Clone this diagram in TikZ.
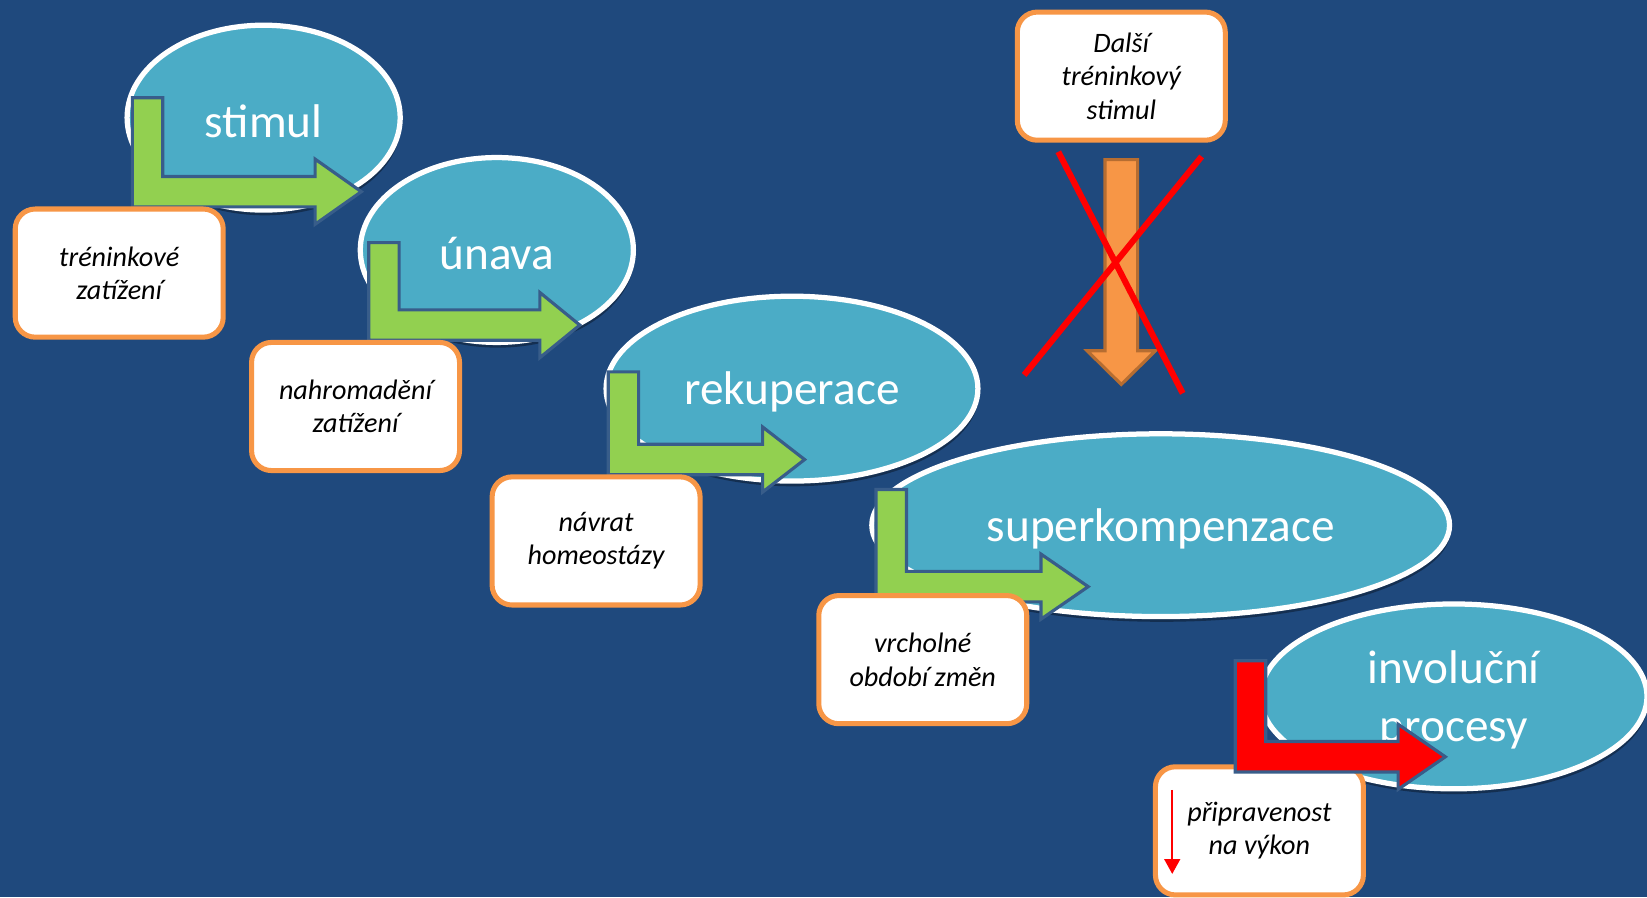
\documentclass[tikz,border=0pt]{standalone}
\usepackage{fontspec}
\setmainfont{Carlito}
\usetikzlibrary{shapes.geometric,arrows.meta,shadows}
\definecolor{bg}{HTML}{1F497D}
\definecolor{aqua}{HTML}{4BACC6}
\definecolor{orng}{HTML}{F79646}
\definecolor{orngdark}{HTML}{B66D31}
\definecolor{arrline}{HTML}{385D8A}
\definecolor{grn}{HTML}{92D050}
\tikzset{
  ell/.style={ellipse, draw=white, line width=2.5pt, fill=aqua, inner sep=0pt,
    drop shadow={shadow xshift=0.5pt, shadow yshift=-2.5pt, opacity=0.35, fill=black}},
  elltxt/.style={text=white, font=\fontsize{22.5}{27.5}\selectfont, align=center,
    inner sep=0pt, yshift=-1.6pt},
  lbl/.style={rectangle, rounded corners=9.5pt, draw=orng, line width=2.4pt, fill=white,
    text=black, font=\fontsize{13.4}{15.9}\selectfont\itshape, align=center,
    minimum width=99pt, minimum height=61pt, inner sep=0pt},
  bent/.style={draw=arrline, line width=1.5pt, line join=miter},
  cross/.style={draw=red, line width=2.9pt},
}
\newcommand\bentarrow[6]{% L T B H X fill
  \filldraw[bent, fill=#6] (#1,#2) -- ({#1+29},#2) -- ({#1+29},{#3-29}) -- (#4,{#3-29})
    -- (#4,{#3-14.5-31}) -- (#5,{#3-14.5}) -- (#4,{#3-14.5+31}) -- (#4,#3) -- (#1,#3) -- cycle;
}
\begin{document}
\begin{tikzpicture}[x=0.5pt,y=-0.5pt]
\fill[bg] (0,0) rectangle (1568,854);
\useasboundingbox (0,0) rectangle (1568,854);

\node[ell, minimum width=130pt, minimum height=88pt] (e1) at (251,112) {};
\node[elltxt] (t1) at (e1.center) {stimul};
\bentarrow{126}{93}{197}{300}{344}{grn}
\node[lbl] (b1) at (113.5,260) {tréninkové\\zatížení};

\node[ell, minimum width=130pt, minimum height=88pt] (e2) at (473,238) {};
\node[elltxt] (t2) at (e2.center) {únava};
\bentarrow{351}{231}{324}{514}{552}{grn}
\node[lbl] (b2) at (338.5,387) {nahromadění\\zatížení};

\node[ell, minimum width=177pt, minimum height=88pt] (e3) at (754,370) {};
\node[elltxt] (t3) at (e3.center) {rekuperace};
\bentarrow{579}{354}{452}{726}{766}{grn}
\node[lbl] (b3) at (567.5,515) {návrat\\homeostázy};

\node[ell, minimum width=275pt, minimum height=87pt] (e4) at (1105,500) {};
\node[elltxt] (t4) at (e4.center) {superkompenzace};
\bentarrow{834}{466}{573}{991}{1036}{grn}
\node[lbl] (b4) at (878.5,628) {vrcholné\\období změn};

\node[ell, minimum width=184pt, minimum height=88pt] (e5) at (1384,663) {};
\node[elltxt] (t5) at (e5.center) {involuční\\procesy};
\node[lbl] (b5) at (1199,791) {připravenost\\na výkon};
\coordinate (ra1) at (1116,752);
\coordinate (ra2) at (1116,832);
\draw[red, line width=0.8pt, -{Triangle[width=7.5pt,length=7pt]}] (ra1) -- (ra2);
\bentarrow{1176}{629}{735}{1331}{1376}{red}

\node[lbl] (b6) at (1067.5,72.5) {Další\\tréninkový\\stimul};

\filldraw[draw=orngdark, fill=orng, line width=1.5pt, line join=miter]
  (1052,152) -- (1083,152) -- (1083,334) -- (1100,334) -- (1067.5,366)
  -- (1035,334) -- (1052,334) -- cycle;
\coordinate (xa1) at (1007.5,144.5);
\coordinate (xa2) at (1126,374.5);
\coordinate (xb1) at (1144,149);
\coordinate (xb2) at (975,357);
\draw[cross] (xa1) -- (xa2);
\draw[cross] (xb1) -- (xb2);
\end{tikzpicture}
\end{document}
